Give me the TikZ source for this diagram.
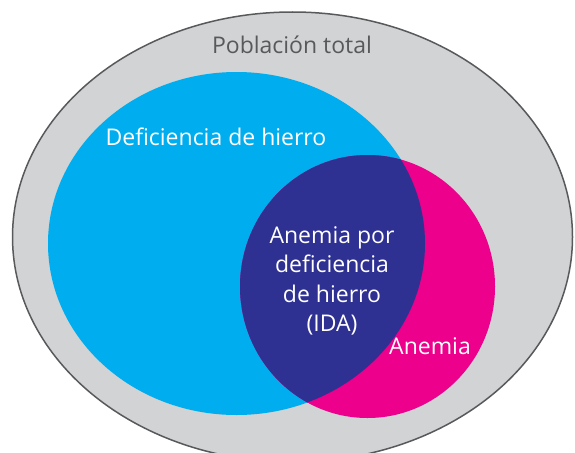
\documentclass[tikz,border=0pt]{standalone}
\usepackage{fontspec}
\setmainfont{Open Sans}
\definecolor{popgray}{HTML}{D1D3D4}
\definecolor{edgegray}{HTML}{58595B}
\definecolor{ironblue}{HTML}{00AEEF}
\definecolor{anemiapink}{HTML}{EC008C}
\definecolor{idablue}{HTML}{2E3192}

\begin{document}
\begin{tikzpicture}[x=1pt, y=-1pt, font=\fontsize{23}{29.5}\selectfont,
	label/.style={text=white, inner sep=0pt}]
	\useasboundingbox (0,0) rectangle (575,452);
	% sets
	\filldraw[fill=popgray, draw=edgegray, line width=1.5pt] (292.5,237) ellipse [x radius=280pt, y radius=225pt];
	\fill[ironblue] (236.5,243.5) ellipse [x radius=188.5pt, y radius=171.5pt];
	\fill[anemiapink] (367.5,286.5) ellipse [x radius=127.5pt, y radius=131.5pt];
	\begin{scope}
		\clip (236.5,243.5) ellipse [x radius=188.5pt, y radius=171.5pt];
		\fill[idablue] (367.5,286.5) ellipse [x radius=127.5pt, y radius=131.5pt];
	\end{scope}
	% labels
	\node[label, text=edgegray] (pop) at (292,45) {Población total};
	\node[label] (iron) at (216,137) {Deficiencia de hierro};
	\node[label, align=center] (ida) at (332,281) {Anemia por\\deficiencia\\de hierro\\(IDA)};
	\node[label] (anemia) at (430,346) {Anemia};
\end{tikzpicture}
\end{document}
